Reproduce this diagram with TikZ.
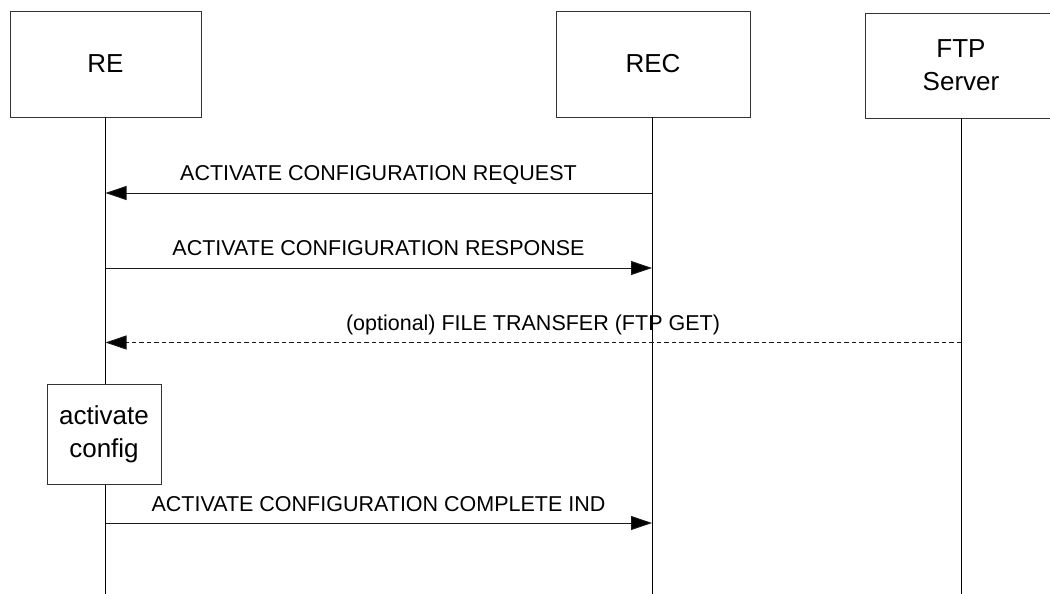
\documentclass[tikz,border=0pt]{standalone}
\usepackage{fontspec}
\setmainfont{Liberation Sans}
\usetikzlibrary{arrows.meta}
\tikzset{
  ent/.style={draw=black!80, line width=0.9pt, fill=white, inner sep=0pt, font=\fontsize{26}{33}\selectfont, align=center},
  life/.style={draw=black, line width=0.9pt},
  msg/.style={draw=black!90, line width=0.9pt, -{Triangle[length=21pt,width=14pt,fill=black]}},
  dmsg/.style={msg, dash pattern=on 4.5pt off 3pt},
  lbl/.style={font=\fontsize{21.5}{25}\selectfont, anchor=base, inner sep=0pt}
}
\begin{document}
\begin{tikzpicture}[x=1pt,y=-1pt]
\useasboundingbox (0,0) rectangle (1050,594);
\clip (0,0) rectangle (1050,594);
% entities
\node[ent, minimum width=191pt, minimum height=106pt] (re) at (105.5,64) {RE};
\node[ent, minimum width=194pt, minimum height=106pt] (rec) at (653,64) {REC};
\node[ent, minimum width=192pt, minimum height=105pt] (ftp) at (961,65.5) {FTP\\Server};
% lifeline ends
\coordinate (reEnd) at (105.5,594);
\coordinate (recEnd) at (652,594);
\coordinate (ftpEnd) at (961,594);
\draw[life] (105.5,117) -- (reEnd);
\draw[life] (652,117) -- (recEnd);
\draw[life] (961,118) -- (ftpEnd);
% message points
\coordinate (re1) at (105.5,193);  \coordinate (rec1) at (652,193);
\coordinate (re2) at (105.5,268);  \coordinate (rec2) at (652,268);
\coordinate (re3) at (105.5,342.5); \coordinate (ftp3) at (961,342.5);
\coordinate (re4) at (105.5,523);  \coordinate (rec4) at (652,523);
% messages
\draw[msg] (rec1) -- (re1);
\node[lbl] (l1) at (378.5,180.5) {ACTIVATE CONFIGURATION REQUEST};
\draw[msg] (re2) -- (rec2);
\node[lbl] (l2) at (378.5,255.5) {ACTIVATE CONFIGURATION RESPONSE};
\draw[dmsg] (ftp3) -- (re3);
\node[lbl] (l3) at (533,330.5) {(optional) FILE TRANSFER (FTP GET)};
% activate config box
\node[ent, minimum width=114pt, minimum height=100pt] (act) at (104,434) {activate\\config};
\draw[msg] (re4) -- (rec4);
\node[lbl] (l4) at (378.5,511.5) {ACTIVATE CONFIGURATION COMPLETE IND};
\end{tikzpicture}
\end{document}
